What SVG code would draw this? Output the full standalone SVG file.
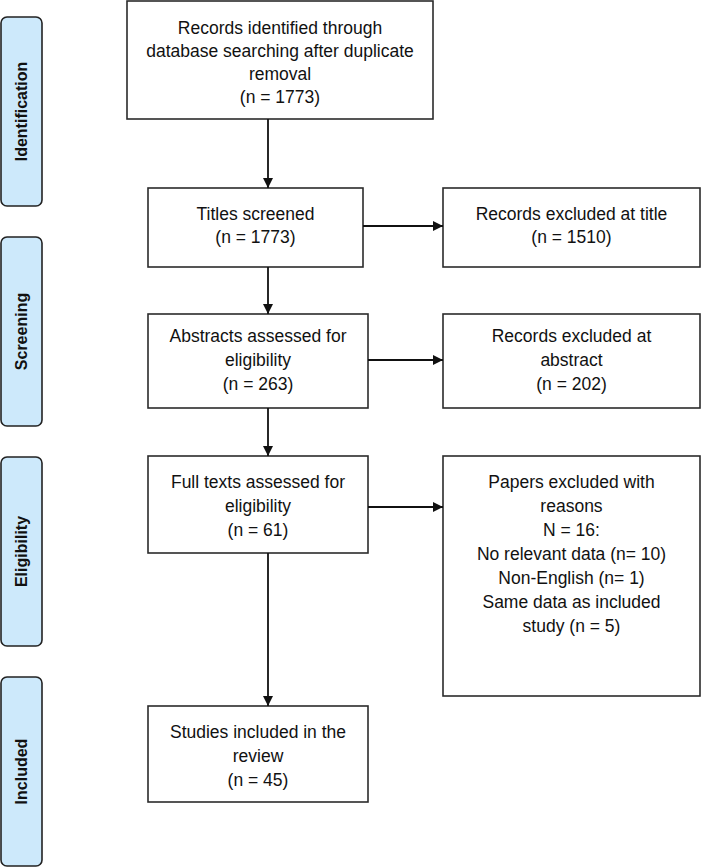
<svg xmlns="http://www.w3.org/2000/svg" width="709" height="867" viewBox="0 0 709 867">
<style>
.box{fill:#fff;stroke:#2b2b2b;stroke-width:1.6}
.side{fill:#cde9fb;stroke:#222;stroke-width:1.6}
.t{font-family:"Liberation Sans",Arial,sans-serif;font-size:17.5px;fill:#111;text-anchor:middle}
.s{font-family:"Liberation Sans",Arial,sans-serif;font-size:16px;font-weight:bold;fill:#111;text-anchor:middle}
.c{stroke:#111;stroke-width:1.8;fill:none;marker-end:url(#ah)}
</style>
<defs>
<marker id="ah" viewBox="0 0 10 10" refX="10" refY="5" markerWidth="10" markerHeight="10" markerUnits="userSpaceOnUse" orient="auto">
<path d="M0,0 L10,5 L0,10 z" fill="#111"/>
</marker>
</defs>
<g id="stage-identification">
<rect class="side" x="1" y="17" width="41" height="189" rx="6"/>
<text class="s" transform="translate(27,111.5) rotate(-90)">Identification</text>
</g>
<g id="stage-screening">
<rect class="side" x="1" y="237" width="41" height="189" rx="6"/>
<text class="s" transform="translate(27,331.5) rotate(-90)">Screening</text>
</g>
<g id="stage-eligibility">
<rect class="side" x="1" y="457" width="41" height="189" rx="6"/>
<text class="s" transform="translate(27,551.5) rotate(-90)">Eligibility</text>
</g>
<g id="stage-included">
<rect class="side" x="1" y="677" width="41" height="189" rx="6"/>
<text class="s" transform="translate(27,771.5) rotate(-90)">Included</text>
</g>
<g id="records-identified">
<rect class="box" x="127" y="1" width="306" height="118"/>
<text class="t" x="280" y="34">Records identified through</text>
<text class="t" x="280" y="57">database searching after duplicate</text>
<text class="t" x="280" y="80">removal</text>
<text class="t" x="280" y="103">(n = 1773)</text>
</g>
<g id="titles-screened">
<rect class="box" x="148" y="188" width="215" height="79"/>
<text class="t" x="255.5" y="220">Titles screened</text>
<text class="t" x="255.5" y="243">(n = 1773)</text>
</g>
<g id="excluded-title">
<rect class="box" x="443" y="188" width="257" height="79"/>
<text class="t" x="571.5" y="220">Records excluded at title</text>
<text class="t" x="571.5" y="243">(n = 1510)</text>
</g>
<g id="abstracts-assessed">
<rect class="box" x="148" y="314" width="220" height="94"/>
<text class="t" x="258" y="342">Abstracts assessed for</text>
<text class="t" x="258" y="366">eligibility</text>
<text class="t" x="258" y="390">(n = 263)</text>
</g>
<g id="excluded-abstract">
<rect class="box" x="443" y="314" width="257" height="94"/>
<text class="t" x="571.5" y="342">Records excluded at</text>
<text class="t" x="571.5" y="366">abstract</text>
<text class="t" x="571.5" y="390">(n = 202)</text>
</g>
<g id="full-texts">
<rect class="box" x="148" y="456" width="220" height="97"/>
<text class="t" x="258" y="488">Full texts assessed for</text>
<text class="t" x="258" y="512">eligibility</text>
<text class="t" x="258" y="536">(n = 61)</text>
</g>
<g id="papers-excluded">
<rect class="box" x="443" y="456" width="257" height="240"/>
<text class="t" x="571.5" y="488">Papers excluded with</text>
<text class="t" x="571.5" y="512">reasons</text>
<text class="t" x="571.5" y="536">N = 16:</text>
<text class="t" x="571.5" y="560">No relevant data (n= 10)</text>
<text class="t" x="571.5" y="584">Non-English (n= 1)</text>
<text class="t" x="571.5" y="608">Same data as included</text>
<text class="t" x="571.5" y="632">study (n = 5)</text>
</g>
<g id="studies-included">
<rect class="box" x="148" y="706" width="220" height="96"/>
<text class="t" x="258" y="738">Studies included in the</text>
<text class="t" x="258" y="762">review</text>
<text class="t" x="258" y="786">(n = 45)</text>
</g>
<g id="connectors">
<line class="c" x1="268" y1="119" x2="268" y2="188"/>
<line class="c" x1="268" y1="267" x2="268" y2="314"/>
<line class="c" x1="268" y1="408" x2="268" y2="456"/>
<line class="c" x1="268" y1="553" x2="268" y2="706"/>
<line class="c" x1="363" y1="226" x2="443" y2="226"/>
<line class="c" x1="368" y1="360" x2="443" y2="360"/>
<line class="c" x1="368" y1="507" x2="443" y2="507"/>
</g>
</svg>
